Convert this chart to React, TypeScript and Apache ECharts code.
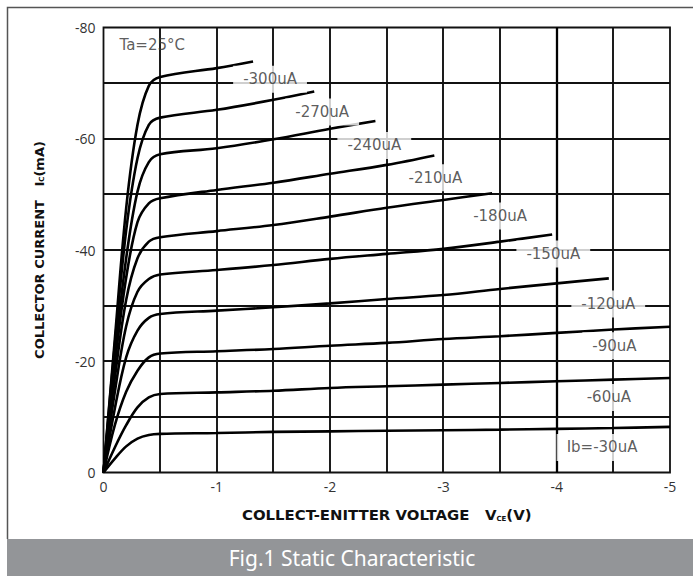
import React, { useEffect, useRef } from "react";
import * as echarts from "echarts";

// Collector-emitter voltage sample points (magnitude in V; axis shows negative)
const riseV = [0, 0.1, 0.2, 0.3, 0.4, 0.5];
const flatV = [1, 1.5, 2, 2.5, 3, 3.5, 4, 4.5, 5];

// Base current curves and collector current readings (magnitude in mA)
const curveNames = ["-300uA", "-270uA", "-240uA", "-210uA", "-180uA", "-150uA", "-120uA", "-90uA", "-60uA", "Ib=-30uA"];

const riseI300 = [0, 24, 47.5, 62.5, 69.5, 71.1];
const flatI300 = [72.7];
const end300 = [1.32, 73.9];

const riseI270 = [0, 23, 43.5, 56.5, 62.5, 63.8];
const flatI270 = [65.2, 67.0];
const end270 = [1.86, 68.5];

const riseI240 = [0, 21, 38.5, 50.5, 55.8, 57.2];
const flatI240 = [58.3, 59.9, 61.8];
const end240 = [2.4, 63.2];

const riseI210 = [0, 19.5, 35, 45, 48.4, 49.3];
const flatI210 = [50.8, 52.1, 53.7, 55.3];
const end210 = [2.92, 57.0];

const riseI180 = [0, 17, 31, 38.5, 41.5, 42.3];
const flatI180 = [43.4, 44.5, 46.0, 47.6, 49.0];
const end180 = [3.43, 50.2];

const riseI150 = [0, 14.5, 26.3, 32.5, 34.8, 35.6];
const flatI150 = [36.4, 37.3, 38.4, 39.3, 40.2, 41.5];
const end150 = [3.96, 42.8];

const riseI120 = [0, 11.5, 20.7, 25.5, 27.8, 28.5];
const flatI120 = [29.1, 29.7, 30.4, 31.2, 31.9, 33.0, 34.0];
const end120 = [4.46, 34.9];

const riseI90 = [0, 8.5, 14.5, 18.3, 20.7, 21.4];
const flatI90 = [21.8, 22.2, 22.8, 23.3, 24.0, 24.5, 25.1, 25.7, 26.2];

const riseI60 = [0, 4.5, 8.5, 11.7, 13.5, 14.1];
const flatI60 = [14.4, 14.7, 15.2, 15.5, 15.8, 16.1, 16.4, 16.7, 17.0];

const riseI30 = [0, 2.5, 4.7, 6.1, 6.75, 6.95];
const flatI30 = [7.1, 7.3, 7.4, 7.5, 7.6, 7.7, 7.85, 8.0, 8.2];

// Curve label anchor points (V, mA magnitudes)
const labelV = [1.47, 1.93, 2.39, 2.93, 3.5, 3.97, 4.455, 4.51, 4.46, 4.4];
const labelI = [70.7, 64.8, 58.8, 53.0, 46.1, 39.3, 30.3, 22.8, 13.5, 4.5];

const tempLabel = "Ta=25°C";
const tempV = 0.43;
const tempI = 76.9;

// Axis ticks (magnitudes)
const xMin = 0, xMax = 5, xStep = 0.5;
const yMin = 0, yMax = 80, yStep = 10;
const xGrid = [0.5, 1, 1.5, 2, 2.5, 3, 3.5, 4, 4.5];
const yGrid = [10, 20, 30, 40, 50, 60, 70];

const curves: { rise: number[]; flat: number[]; end: number[] | null }[] = [
  { rise: riseI300, flat: flatI300, end: end300 },
  { rise: riseI270, flat: flatI270, end: end270 },
  { rise: riseI240, flat: flatI240, end: end240 },
  { rise: riseI210, flat: flatI210, end: end210 },
  { rise: riseI180, flat: flatI180, end: end180 },
  { rise: riseI150, flat: flatI150, end: end150 },
  { rise: riseI120, flat: flatI120, end: end120 },
  { rise: riseI90, flat: flatI90, end: null },
  { rise: riseI60, flat: flatI60, end: null },
  { rise: riseI30, flat: flatI30, end: null },
];

function buildPoints(c: { rise: number[]; flat: number[]; end: number[] | null }) {
  const pts: number[][] = [];
  riseV.forEach((v, i) => pts.push([v, c.rise[i]]));
  c.flat.forEach((val, i) => pts.push([flatV[i], val]));
  if (c.end) pts.push([c.end[0], c.end[1]]);
  return pts;
}

const neg = (v: number) => (v === 0 ? "0" : "-" + v);

export default function App() {
  const ref = useRef<HTMLDivElement>(null);
  useEffect(() => {
    if (!ref.current) return;
    const chart = echarts.init(ref.current, undefined, { renderer: "svg" });
    const lineSeries = curves.map((c, i) => ({
      name: curveNames[i],
      type: "line",
      data: buildPoints(c),
      showSymbol: false,
      smooth: 0.35,
      lineStyle: { color: "#000", width: 2.6 },
      z: 3,
    }));
    const labelData = curveNames.map((n, i) => [labelV[i], labelI[i], n]);
    const gridData = [
      ...xGrid.map((v) => [0, v]),
      ...yGrid.map((v) => [1, v]),
    ];
    const titleRich = (size: number) => ({
      a: { fontFamily: "DejaVu Sans", fontWeight: "bold", fontSize: size, color: "#111" },
      s: { fontFamily: "DejaVu Sans", fontWeight: "bold", fontSize: 7, color: "#111", verticalAlign: "bottom", padding: [6, 0, 0, 0] },
    });
    chart.setOption({
      animation: false,
      backgroundColor: "#fff",
      grid: {
        left: 103.5,
        right: 23,
        top: 27.5,
        bottom: 103.5,
        show: true,
        borderColor: "#111",
        borderWidth: 1.8,
      },
      xAxis: {
        type: "value",
        min: xMin,
        max: xMax,
        interval: xStep,
        axisLine: { show: false },
        axisTick: { show: false },
        splitLine: { show: false },
        axisLabel: {
          margin: 7,
          color: "#333",
          fontFamily: "Open Sans",
          fontSize: 14,
          formatter: (v: number) => (Number.isInteger(v) ? neg(v) : ""),
        },
        name: "{a|COLLECT-ENITTER VOLTAGE   V}{s|CE}{a|(V)}",
        nameLocation: "middle",
        nameGap: 35,
        nameTextStyle: { rich: titleRich(14.9) },
      },
      yAxis: {
        type: "value",
        min: yMin,
        max: yMax,
        interval: yStep,
        axisLine: { show: false },
        axisTick: { show: false },
        splitLine: { show: false },
        axisLabel: {
          margin: 8,
          color: "#333",
          fontFamily: "Open Sans",
          fontSize: 14,
          formatter: (v: number) => (v % 20 === 0 ? neg(v) : ""),
        },
        name: "{a|COLLECTOR CURRENT   I}{s|C}{a|(mA)}",
        nameLocation: "middle",
        nameGap: 58,
        nameTextStyle: { rich: titleRich(13) },
      },
      series: [
        {
          type: "custom",
          data: gridData,
          z: 1,
          silent: true,
          renderItem: (params: any, api: any) => {
            const dir = api.value(0);
            const v = api.value(1);
            const p1 = dir === 0 ? api.coord([v, yMin]) : api.coord([xMin, v]);
            const p2 = dir === 0 ? api.coord([v, yMax]) : api.coord([xMax, v]);
            const thick = dir === 0 && v === 4;
            let pts;
            if (dir === 0) {
              const x = Math.round(p1[0]);
              pts = [[x, p1[1]], [x, p2[1]]];
            } else {
              const y = Math.round(p1[1]);
              pts = [[p1[0], y], [p2[0], y]];
            }
            return {
              type: "polyline",
              shape: { points: pts },
              style: { stroke: thick ? "#000" : "#111", lineWidth: thick ? 2.3 : 1.9, fill: null },
            };
          },
        },
        ...lineSeries,
        {
          type: "scatter",
          data: labelData,
          symbolSize: 0,
          z: 5,
          silent: true,
          label: {
            show: true,
            position: "inside",
            formatter: (p: any) => p.data[2],
            color: "#333",
            fontFamily: "DejaVu Sans",
            fontSize: 15,
            backgroundColor: "#fff",
            padding: [6, 10],
          },
        },
        {
          type: "scatter",
          data: [[tempV, tempI, tempLabel]],
          symbolSize: 0,
          z: 5,
          silent: true,
          label: {
            show: true,
            position: "inside",
            formatter: (p: any) => p.data[2],
            color: "#333",
            fontFamily: "DejaVu Sans",
            fontSize: 15,
          },
        },
      ],
      graphic: [
        {
          type: "polyline",
          shape: { points: [[7.5, 539], [7.5, 7.5], [700, 7.5]] },
          style: { stroke: "#555", lineWidth: 1.5, fill: null },
          silent: true,
          z: -10,
        },
        {
          type: "rect",
          shape: { x: 7, y: 539, width: 700, height: 40 },
          style: { fill: "#939598" },
          silent: true,
        },
        {
          type: "text",
          x: 352,
          y: 557.5,
          style: {
            text: "Fig.1 Static Characteristic",
            fill: "#fff",
            fontFamily: "Noto Sans",
            fontSize: 21,
            align: "center",
            verticalAlign: "middle",
          },
          silent: true,
        },
      ],
    });
    return () => chart.dispose();
  }, []);
  return (
    <div
      ref={ref}
      style={{ position: "fixed", left: 0, top: 0, width: 693, height: 576 }}
    />
  );
}
